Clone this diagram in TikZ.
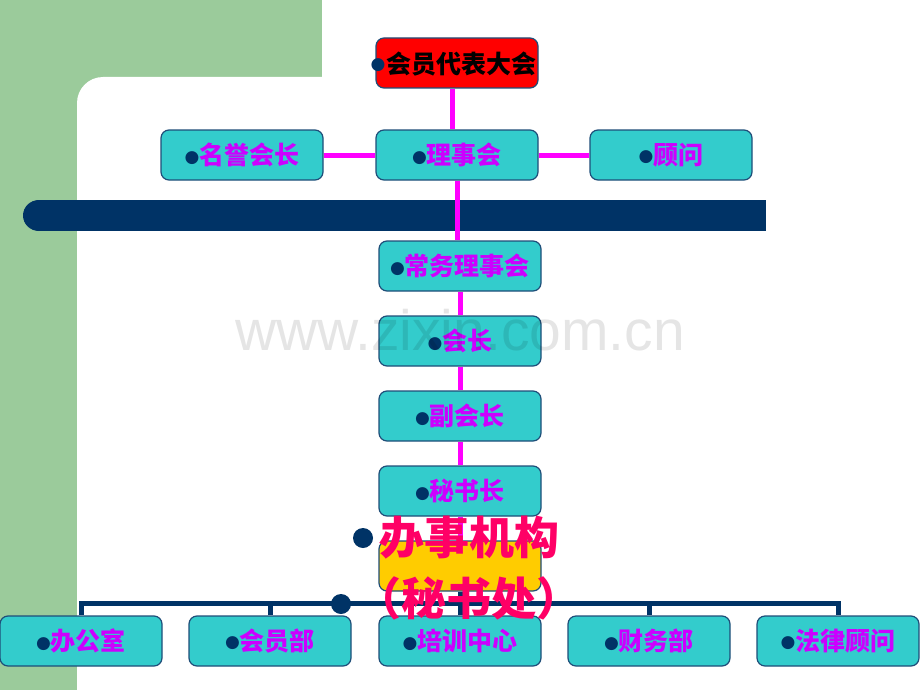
\documentclass[tikz,border=0pt]{standalone}
\usepackage{fontspec}
\newfontfamily\cjk{Noto Sans CJK SC}
\newfontfamily\dejavu{DejaVu Sans}
\newfontfamily\wmfont{Liberation Sans}
\definecolor{bggreen}{HTML}{9BCB9B}
\definecolor{bnavy}{HTML}{003366}
\definecolor{boxteal}{HTML}{33CCCC}
\definecolor{boxline}{HTML}{1F4E79}
\definecolor{txtmag}{HTML}{CC00FF}
\definecolor{linemag}{HTML}{FF00FF}
\definecolor{bigred}{HTML}{FF0066}
\definecolor{boxyellow}{HTML}{FFCC00}
\pgfdeclarelayer{bglayer}
\pgfdeclarelayer{connlayer}
\pgfsetlayers{bglayer,connlayer,main}
\newcommand\bul{\textcolor{bnavy}{\raisebox{2.5pt}{\fontsize{17}{17}\selectfont\dejavu ●}}}
\tikzset{
  orgbox/.style={draw=boxline, line width=1.2pt, fill=boxteal, rounded corners=8pt,
    minimum width=162pt, minimum height=50pt, inner sep=0pt,
    font=\cjk\bfseries\fontsize{25}{25}\selectfont, text=txtmag},
  magline/.style={linemag, line width=5pt},
  busline/.style={bnavy, line width=5pt},
  bigtext/.style={font=\cjk\bfseries\fontsize{45}{45}\selectfont, text=bigred, inner sep=0pt}
}
\begin{document}
\begin{tikzpicture}[x=1pt,y=-1pt]
\useasboundingbox (0,0) rectangle (920,690);
\begin{pgfonlayer}{bglayer}
\clip (0,0) rectangle (920,690);
\fill[white] (0,0) rectangle (920,690);
\fill[bggreen] (0,0) rectangle (322,690);
\fill[white, rounded corners=26pt] (77,720) rectangle (960,77);
\fill[bnavy] (39,200) rectangle (766,231);
\fill[bnavy] (39,215.5) ellipse (16 and 15.5);
\end{pgfonlayer}
% boxes
\node[orgbox, fill=red] (top) at (457,63) {};
\node[font=\cjk\bfseries\fontsize{25}{25}\selectfont, text=black, inner sep=0pt, anchor=west] (toptext) at (386,64) {会员代表大会};
\node[inner sep=0pt] (topbul) at (378,65) {\bul};
\node[orgbox] (lsh) at (457,155) {\bul 理事会};
\node[orgbox] (myhz) at (242,155) {\bul 名誉会长};
\node[orgbox] (gw) at (671,155) {\bul 顾问};
\node[orgbox] (cw) at (460,266) {\bul 常务理事会};
\node[orgbox] (hz) at (460,341) {\bul 会长};
\node[orgbox] (fhz) at (460,416) {\bul 副会长};
\node[orgbox] (msz) at (460,491) {\bul 秘书长};
\node[orgbox, fill=boxyellow] (yel) at (460,566) {};
\node[orgbox] (b1) at (81,641) {\bul 办公室};
\node[orgbox] (b2) at (270,641) {\bul 会员部};
\node[orgbox] (b3) at (460,641) {\bul 培训中心};
\node[orgbox] (b4) at (649,641) {\bul 财务部};
\node[orgbox] (b5) at (838,641) {\bul 法律顾问};
% connectors
\begin{pgfonlayer}{connlayer}
\draw[magline] ([xshift=-5pt]top.south) -- ([xshift=-5pt]lsh.north);
\draw[magline] (myhz.east) -- (lsh.west);
\draw[magline] (lsh.east) -- (gw.west);
\draw[magline] (lsh.south) -- (lsh.south |- cw.north);
\draw[magline] (cw.south) -- (hz.north);
\draw[magline] (hz.south) -- (fhz.north);
\draw[magline] (fhz.south) -- (msz.north);
\draw[magline] (msz.south) -- (yel.north);
\draw[busline] (b1.north) -- ++(0,-12) -| (b5.north);
\draw[busline] (b2.north) -- ++(0,-12);
\draw[busline] (b4.north) -- ++(0,-12);
\draw[busline] (yel.south) -- (b3.north);
\end{pgfonlayer}
% big text
\node[bigtext] (bj1) at (469,538) {办事机构};
\node[bigtext] (bj2) at (469,598) {（秘书处）};
\fill[bnavy] (363,538) circle (10pt);
\fill[bnavy] (341,604) circle (10pt);
% watermark
\node[font=\wmfont\fontsize{57}{57}\selectfont, text=black, opacity=0.1] (wm) at (460,330) {www.zixin.com.cn};
\end{tikzpicture}
\end{document}
